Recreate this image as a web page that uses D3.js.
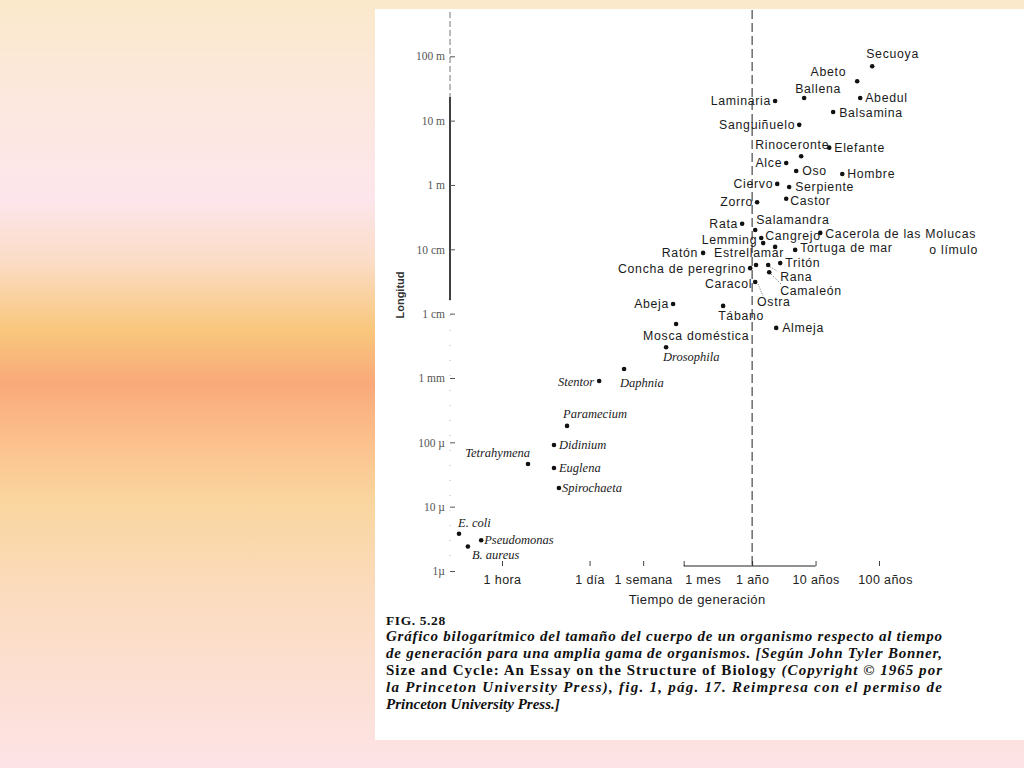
<!DOCTYPE html>
<html><head><meta charset="utf-8">
<script src="https://cdn.jsdelivr.net/npm/d3@7"></script>
<style>body{margin:0;overflow:hidden}svg{display:block}</style>
</head><body><svg id="c" width="1024" height="768"></svg>
<script>
// ---------- DATA ----------
const organisms = ["Secuoya","Abeto","Ballena","Laminaria","Abedul","Balsamina","Sanguiñuelo","Rinoceronte","Elefante","Alce","Oso","Hombre","Ciervo","Serpiente","Zorro","Castor","Rata","Salamandra","Cangrejo","Cacerola de las Molucas","Lemming","Estrellamar","Ratón","Tortuga de mar","Concha de peregrino","Ostra","Rana","Tritón","Camaleón","Caracol","Abeja","Tábano","Almeja","Mosca doméstica","Drosophila","Daphnia","Stentor","Paramecium","Didinium","Tetrahymena","Euglena","Spirochaeta","E. coli","Pseudomonas","B. aureus"];
// generation time (hours)
const generationHours = [685000,397000,57900,20200,443000,166000,48400,52000,144000,30200,43400,231000,21800,33600,10500,30200,6100,9800,12200,104000,13100,20200,1480,41800,8160,10100,15700,24300,16300,9800,498,3060,21000,555,386,84,34,10.6,6.6,2.57,6.6,7.9,0.21,0.47,0.29];
// body length (metres)
const lengthMeters = [70,41,22.5,20.2,22.5,13.6,8.6,2.8,3.8,2.2,1.65,1.48,1.04,0.93,0.54,0.61,0.25,0.2,0.15,0.18,0.125,0.109,0.088,0.098,0.051,0.057,0.057,0.061,0.044,0.031,0.0141,0.0132,0.006,0.0069,0.003,0.00138,0.0009,0.00018,0.000091,0.000046,0.00004,0.0000195,0.0000038,0.000003,0.0000024];
const xTickValues = [1,24,168,730.5,8766,87660,876600];
const xTickLabels = ["1 hora","1 día","1 semana","1 mes","1 año","10 años","100 años"];
const yTickValues = [100,10,1,0.1,0.01,0.001,1e-4,1e-5,1e-6];
const yTickLabels = ["100 m","10 m","1 m","10 cm","1 cm","1 mm","100 µ","10 µ","1µ"];
const captionLines = [
  "Gráfico bilogarítmico del tamaño del cuerpo de un organismo respecto al tiempo",
  "de generación para una amplia gama de organismos. [Según John Tyler Bonner,",
  "la Princeton University Press), fig. 1, pág. 17. Reimpresa con el permiso de",
  "Princeton University Press.]"];

// ---------- LAYOUT (label placement) ----------
const labelPos = {
 "Secuoya":[-6,-8,"start"],"Abeto":[-11,-5,"end"],"Ballena":[-9,-5,"start"],"Laminaria":[-4,4,"end"],
 "Abedul":[5,4,"start"],"Balsamina":[6,5,"start"],"Sanguiñuelo":[-4,4,"end"],"Rinoceronte":[-46,-7,"start"],
 "Elefante":[5,4,"start"],"Alce":[-4,4,"end"],"Oso":[6,4,"start"],"Hombre":[5,4,"start"],"Ciervo":[-4,4,"end"],
 "Serpiente":[6,4,"start"],"Zorro":[-4,4,"end"],"Castor":[4,6,"start"],"Rata":[-4,4,"end"],"Salamandra":[1,-6,"start"],
 "Cangrejo":[4,2,"start"],"Cacerola de las Molucas":[5,5,"start"],"Lemming":[-6,1,"end"],"Estrellamar":[-61,10,"start"],
 "Ratón":[-5,4,"end"],"Tortuga de mar":[5,2,"start"],"Concha de peregrino":[-4,5,"end"],"Ostra":[1,41,"start"],
 "Rana":[12,16,"start"],"Tritón":[5,4,"start"],"Camaleón":[11,23,"start"],"Caracol":[-3,6,"end"],"Abeja":[-4,4,"end"],
 "Tábano":[-5,14,"start"],"Almeja":[6,4,"start"],"Mosca doméstica":[-33,16,"start"],"Drosophila":[-3,14,"start"],
 "Daphnia":[-4,18,"start"],"Stentor":[-5,5,"end"],"Paramecium":[-4,-8,"start"],"Didinium":[5,4,"start"],
 "Tetrahymena":[2,-7,"end"],"Euglena":[5,4,"start"],"Spirochaeta":[3,4,"start"],"E. coli":[-1,-7,"start"],
 "Pseudomonas":[3,4,"start"],"B. aureus":[4,12,"start"]};
const italicNames = new Set(["Drosophila","Daphnia","Stentor","Paramecium","Didinium","Tetrahymena","Euglena","Spirochaeta","E. coli","Pseudomonas","B. aureus"]);
const leaders = {"Rana":[[2,2],[9,6]],"Camaleón":[[2,2],[12,12]],"Ostra":[[2,19],[7,31]]};

// ---------- DRAW ----------
const svg = d3.select("#c");
const defs = svg.append("defs");
const g = defs.append("linearGradient").attr("id","bg").attr("x1",0).attr("y1",0).attr("x2",0).attr("y2",1);
[[0,"#fbe9cb"],[0.13,"#fce8de"],[0.26,"#fde6ec"],[0.34,"#fbdcc6"],[0.43,"#f9c77c"],[0.5,"#f9a97a"],[0.57,"#fcbf8c"],[0.65,"#fad59e"],[0.78,"#fbdcc0"],[1,"#fde3e6"]]
 .forEach(s=>g.append("stop").attr("offset",s[0]).attr("stop-color",s[1]));
svg.append("rect").attr("width",1024).attr("height",768).attr("fill","url(#bg)");
svg.append("rect").attr("x",375).attr("y",9).attr("width",649).attr("height",731).attr("fill","#fff");

const x = d3.scaleLog().domain([1,876600]).range([502,879]);
const y = d3.scaleLog().domain([1e-6,100]).range([571,56.3]);
const axisX = 450, baseY = 566;
const SANS = "Liberation Sans, Arial, sans-serif";

// y axis line pieces
svg.append("line").attr("x1",axisX).attr("x2",axisX).attr("y1",12).attr("y2",97).attr("stroke","#777").attr("stroke-dasharray","6,3");
svg.append("line").attr("x1",axisX).attr("x2",axisX).attr("y1",97).attr("y2",300).attr("stroke","#111").attr("stroke-width",1.6);
svg.append("line").attr("x1",axisX).attr("x2",axisX).attr("y1",300).attr("y2",560).attr("stroke","#bbb").attr("stroke-dasharray","1,14");

const ya = svg.append("g").attr("transform",`translate(${axisX},0)`)
  .call(d3.axisLeft(y).tickValues(yTickValues).tickSize(-5).tickPadding(5).tickFormat((d,i)=>yTickLabels[i]));
ya.select(".domain").remove();
ya.selectAll("line").attr("stroke","#555");
ya.selectAll("text").attr("font-family","Liberation Serif, serif").attr("font-size",11.5).attr("fill","#555");

// x axis
const xa = svg.append("g").attr("transform",`translate(0,${baseY})`)
  .call(d3.axisBottom(x).tickValues(xTickValues).tickSize(-5).tickPadding(9).tickFormat((d,i)=>xTickLabels[i]));
xa.select(".domain").remove();
xa.selectAll("line").attr("stroke","#444");
xa.selectAll("text").attr("font-family",SANS).attr("font-size",12.5).attr("fill","#222").attr("letter-spacing",0.4)
  .attr("dx",(d,i)=> xTickLabels[i]==="1 mes"?19:(xTickLabels[i]==="100 años"?6:0));
svg.append("line").attr("x1",x(730.5)).attr("x2",x(87660)).attr("y1",baseY).attr("y2",baseY).attr("stroke","#222").attr("stroke-width",1.2);

// 1 year dashed line
svg.append("line").attr("x1",x(8766)).attr("x2",x(8766)).attr("y1",10).attr("y2",baseY)
  .attr("stroke","#222").attr("stroke-dasharray","9,4");

// axis titles
svg.append("text").attr("x",x(8766)-55).attr("y",604).attr("text-anchor","middle")
  .attr("font-family",SANS).attr("font-size",13).attr("letter-spacing",0.4).attr("fill","#222").text("Tiempo de generación");
svg.append("text").attr("transform","translate(404,295) rotate(-90)").attr("text-anchor","middle")
  .attr("font-family",SANS).attr("font-size",11).attr("font-weight","bold").attr("fill","#333").text("Longitud");

// points
const pts = organisms.map((n,i)=>({name:n,t:generationHours[i],l:lengthMeters[i]}));
svg.append("g").selectAll("circle").data(pts).join("circle")
  .attr("cx",d=>x(d.t)).attr("cy",d=>y(d.l)).attr("r",2.3).attr("fill","#111");

// leaders
pts.filter(d=>leaders[d.name]).forEach(d=>{
  const L = leaders[d.name];
  svg.append("line").attr("x1",x(d.t)+L[0][0]).attr("y1",y(d.l)+L[0][1]).attr("x2",x(d.t)+L[1][0]).attr("y2",y(d.l)+L[1][1])
   .attr("stroke","#444").attr("stroke-width",0.8).attr("stroke-dasharray","1,1.5");
});

// labels
const lab = svg.append("g");
pts.forEach(d=>{
  const p = labelPos[d.name], it = italicNames.has(d.name);
  const t = lab.append("text").attr("x",x(d.t)+p[0]).attr("y",y(d.l)+p[1]).attr("text-anchor",p[2])
    .attr("fill","#1a1a1a").text(d.name);
  if(it) t.attr("font-family","Liberation Serif, serif").attr("font-style","italic").attr("font-size",12.5);
  else t.attr("font-family",SANS).attr("font-size",12.3).attr("letter-spacing",0.7);
  if(d.name==="Cacerola de las Molucas"){
    const w = t.node().getComputedTextLength();
    lab.append("text").attr("x",x(d.t)+p[0]+w+2).attr("y",y(d.l)+p[1]+16).attr("text-anchor","end")
      .attr("font-family",SANS).attr("font-size",12.3).attr("letter-spacing",0.7).attr("fill","#1a1a1a").text("o límulo");
  }
});

// caption
const cap = svg.append("g").attr("font-family","Liberation Serif, serif").attr("fill","#111");
cap.append("text").attr("x",386).attr("y",625).attr("font-weight","bold").attr("font-size",13.5).attr("letter-spacing",0.6).text("FIG. 5.28");
const capY = [641,658,692,709];
captionLines.forEach((s,i)=>{
  const t = cap.append("text").attr("x",386).attr("y",capY[i]).attr("font-style","italic").attr("font-weight","bold").attr("font-size",15).text(s);
  if(i<3) t.attr("textLength",556).attr("lengthAdjust","spacing");
});
const l3 = cap.append("text").attr("x",386).attr("y",675).attr("font-size",15).attr("font-weight","bold").attr("textLength",556).attr("lengthAdjust","spacing");
l3.append("tspan").text("Size and Cycle: An Essay on the Structure of Biology ");
l3.append("tspan").attr("font-style","italic").text("(Copyright © 1965 por");
</script></body></html>
